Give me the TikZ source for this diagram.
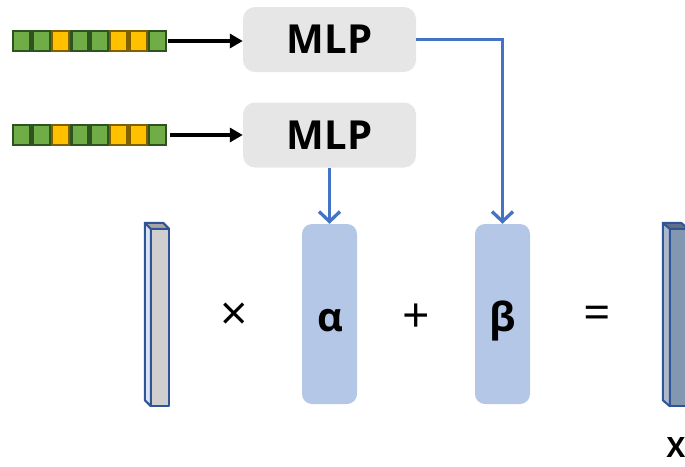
\documentclass[tikz,border=0pt]{standalone}
\usepackage{fontspec}
\setmainfont{Open Sans}
\usetikzlibrary{arrows.meta}
\definecolor{mlpgray}{HTML}{E7E6E6}
\definecolor{parblue}{HTML}{B4C7E7}
\definecolor{arrblue}{HTML}{4472C4}
\definecolor{edgeblue}{HTML}{2F5597}
\definecolor{cgreen}{HTML}{70AD47}
\definecolor{cgreend}{HTML}{2E5220}
\definecolor{cyellow}{HTML}{FFC000}
\definecolor{cyellowd}{HTML}{7F6000}
\definecolor{lfront}{HTML}{D0CECE}
\definecolor{ltop}{HTML}{A6A6A6}
\definecolor{lside}{HTML}{DAE3F3}
\definecolor{rfront}{HTML}{8497B0}
\definecolor{rtop}{HTML}{5F6F87}
\definecolor{rside}{HTML}{ADB9CA}
\tikzset{
  mlpbox/.style={fill=mlpgray, rounded corners=12pt, minimum width=173pt, minimum height=65pt, inner sep=0pt,
    font=\fontsize{40}{40}\selectfont\bfseries},
  parbox/.style={fill=parblue, rounded corners=10pt, minimum width=55pt, minimum height=180pt, inner sep=0pt},
  gcell/.style={fill=cgreen, draw=cgreend, line width=2.3pt, minimum width=17.1pt, minimum height=19.7pt, inner sep=0pt},
  ycell/.style={fill=cyellow, draw=cyellowd, line width=2.3pt, minimum width=17.1pt, minimum height=19.7pt, inner sep=0pt},
  blackarr/.style={line width=4.5pt, -{Triangle[length=13pt,width=14pt]}},
  bluearr/.style={draw=arrblue, line width=3.3pt, -{Straight Barb[length=10pt,width=21pt,line width=3.3pt]}},
  symb/.style={inner sep=0pt, font=\fontsize{48}{48}\selectfont},
  greek/.style={inner sep=0pt, anchor=base, font=\fontsize{40}{40}\selectfont\bfseries},
  baredge/.style={draw=edgeblue, line width=2pt, line join=round},
}
\begin{document}
\begin{tikzpicture}[x=1pt,y=-1pt]
\useasboundingbox (0,0) rectangle (685,466);
% vectors
\foreach \row/\yy in {a/41, b/135}{
  \foreach \i/\t in {1/gcell,2/gcell,3/ycell,4/gcell,5/gcell,6/ycell,7/ycell,8/gcell}{
    \node[\t] (\row\i) at ({12+19.4*(\i-0.5)},\yy) {};
  }
}
% MLP boxes
\node[mlpbox] (mlp1) at (329.5,39.5) {MLP};
\node[mlpbox] (mlp2) at (329.5,135) {MLP};
\draw[blackarr] ([xshift=1pt]a8.east) -- (a8.east -| mlp1.west);
\draw[blackarr] ([xshift=3pt]b8.east) -- (b8.east -| mlp2.west);
% alpha, beta
\node[parbox] (alpha) at (329.5,314) {};
\node[parbox] (beta) at (502.5,314) {};
\node[greek] (alab) at (330,331) {α};
\node[greek] (blab) at (503,331) {β};
\draw[bluearr] (mlp2.south) -- (alpha.north);
\draw[bluearr] (mlp1.east) -| (beta.north);
% operators
\node[symb] (times) at (234,317) {×};
\node[symb] (plus) at (416,318) {+};
\node[symb] (eq) at (597,318) {=};
% left bar
\node[inner sep=0pt, minimum width=18pt, minimum height=177pt] (xin) at (160,317.5) {};
\filldraw[baredge, fill=lside] (xin.north west) -- ++(-6,-6) -- ([xshift=-6pt,yshift=6pt]xin.south west) -- (xin.south west) -- cycle;
\filldraw[baredge, fill=ltop] (xin.north west) -- ++(-6,-6) -- ([xshift=-6pt,yshift=6pt]xin.north east) -- (xin.north east) -- cycle;
\filldraw[baredge, fill=lfront] (xin.north west) rectangle (xin.south east);
% right bar
\node[inner sep=0pt, minimum width=18pt, minimum height=177pt] (xout) at (679,317.5) {};
\filldraw[baredge, fill=rside] (xout.north west) -- ++(-7,-6) -- ([xshift=-7pt,yshift=6pt]xout.south west) -- (xout.south west) -- cycle;
\filldraw[baredge, fill=rtop] (xout.north west) -- ++(-7,-6) -- ([xshift=-7pt,yshift=6pt]xout.north east) -- (xout.north east) -- cycle;
\filldraw[baredge, fill=rfront] (xout.north west) rectangle (xout.south east);
\node[inner sep=0pt, font=\fontsize{28}{28}\selectfont\bfseries] (xlab) at (676,447) {X};
\end{tikzpicture}
\end{document}
